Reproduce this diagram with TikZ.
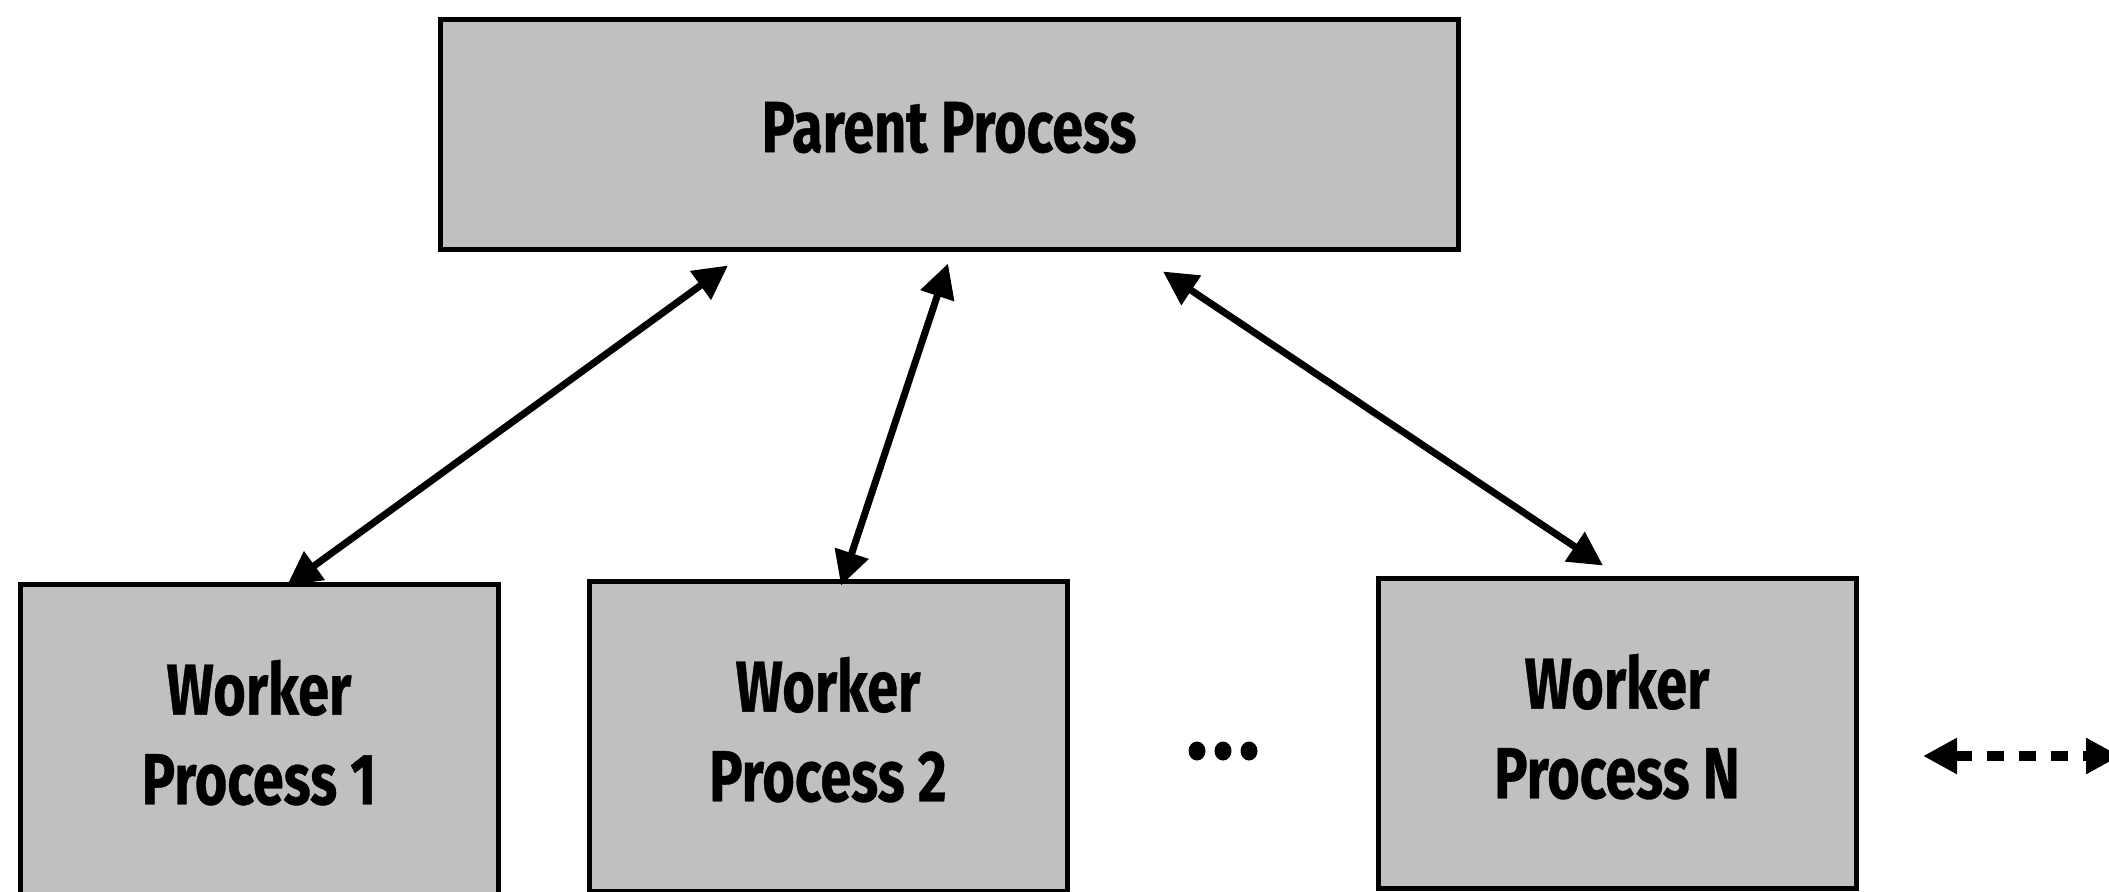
\documentclass[tikz,border=0pt]{standalone}
\usepackage{fontspec}
\newfontfamily\procfont[FakeStretch=0.77,FakeBold=0.5]{Fira Sans}
\usetikzlibrary{arrows.meta,calc}
\definecolor{boxgray}{RGB}{192,192,192}

\begin{document}
\begin{tikzpicture}
[x=0.1mm,y=-0.1mm,
 boxdecorate/.style={shape=rectangle,draw,line width=0.5mm,fill=boxgray,
   minimum width=47.8mm,minimum height=31mm,inner sep=0pt,align=center,text depth=1.4mm,
   font=\procfont\bfseries\fontsize{20.6}{25.5}\selectfont},
 arrowdecorate/.style={{Triangle[length=3.4mm,width=3.4mm]}-{Triangle[length=3.4mm,width=3.4mm]},line width=0.7mm},
 dashdecorate/.style={arrowdecorate,line width=1mm,dash pattern=on 1.7mm off 1.5mm}]
\useasboundingbox (0,0) rectangle (2109,891);
\clip (0,0) rectangle (2109,891);
%% processes
\node (parent) at (949,134) [boxdecorate,minimum width=101.8mm,minimum height=23mm] {Parent Process};
\foreach \nodename/\x/\y/\txt in {w1/259/739/1, w2/828/736/2, wN/1617/733/N} {
  \node (\nodename) at (\x,\y) [boxdecorate] {Worker\\Process \txt};
}
%% dots between the workers
\foreach \x in {1197,1223,1249} {
  \fill (\x,751) ellipse [x radius=0.85mm,y radius=0.95mm];
}
%% links to the parent
\path
\foreach \startnode/\sx/\sy/\endnode/\ex/\ey in {w1/28/4/parent/-221/14, w2/13/7/parent/-1/12, wN/-14/-10/parent/214/20} {
  ($(\startnode.north)+(\sx,\sy)$) edge[arrowdecorate] ($(\endnode.south)+(\ex,\ey)$)
};
%% link going off the page
\coordinate (dashstart) at (1923,756);
\coordinate (dashend) at (2120,756);
\draw[dashdecorate] (dashstart) -- (dashend);
\end{tikzpicture}
\end{document}
